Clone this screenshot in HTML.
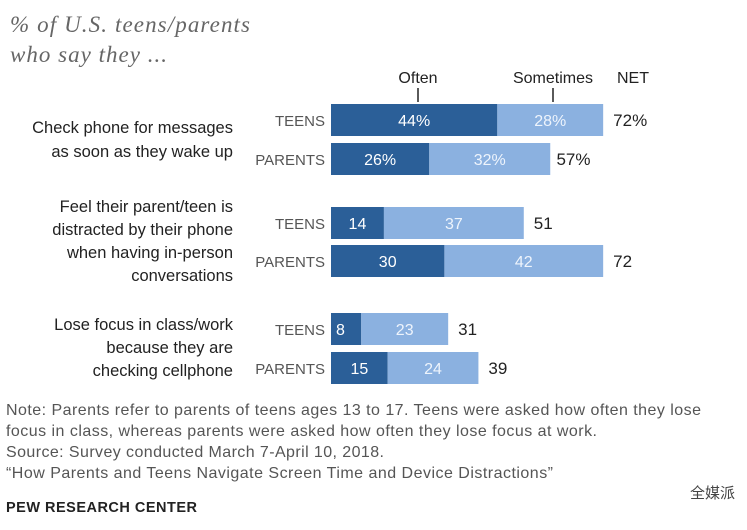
<!DOCTYPE html>
<html><head><meta charset="utf-8"><style>
body{margin:0;background:#fff;width:747px;height:525px;overflow:hidden;font-family:"Liberation Sans",sans-serif}
svg text{font-family:"Liberation Sans",sans-serif}
</style></head><body>
<svg width="747" height="525">
<text x="10" y="32" font-style="italic" font-size="23" fill="#666" textLength="240" style="font-family:'Liberation Serif',serif">% of U.S. teens/parents</text>
<text x="10" y="62" font-style="italic" font-size="23" fill="#666" textLength="157" style="font-family:'Liberation Serif',serif">who say they ...</text>
<text x="418" y="83" font-size="16" text-anchor="middle" fill="#222">Often</text>
<line x1="418" y1="88" x2="418" y2="102" stroke="#222" stroke-width="1.5"/>
<text x="553" y="83" font-size="16" text-anchor="middle" fill="#222">Sometimes</text>
<line x1="553" y1="88" x2="553" y2="102" stroke="#222" stroke-width="1.5"/>
<text x="633" y="83" font-size="16" text-anchor="middle" fill="#222">NET</text>
<g id="q" fill="#222" font-size="16.5" text-anchor="end">
<text x="233" y="133">Check phone for messages</text>
<text x="233" y="157">as soon as they wake up</text>
<text x="233" y="212">Feel their parent/teen is</text>
<text x="233" y="235">distracted by their phone</text>
<text x="233" y="258">when having in-person</text>
<text x="233" y="281">conversations</text>
<text x="233" y="330">Lose focus in class/work</text>
<text x="233" y="353">because they are</text>
<text x="233" y="376">checking cellphone</text>
</g>
<g id="bars"></g>
<g fill="#555" font-size="16">
<text x="6" y="415" textLength="695">Note: Parents refer to parents of teens ages 13 to 17. Teens were asked how often they lose</text>
<text x="6" y="436" textLength="591">focus in class, whereas parents were asked how often they lose focus at work.</text>
<text x="6" y="457" textLength="378">Source: Survey conducted March 7-April 10, 2018.</text>
<text x="6" y="478" textLength="547">“How Parents and Teens Navigate Screen Time and Device Distractions”</text>
</g>
<text x="6" y="512" font-size="14.5" font-weight="bold" fill="#222" textLength="191">PEW RESEARCH CENTER</text>
<text x="735" y="498" font-size="15" text-anchor="end" fill="#444" style="font-family:'Liberation Sans','Noto Sans CJK SC',sans-serif">全媒派</text>
</svg>
<script>
const groups=["TEENS","PARENTS","TEENS","PARENTS","TEENS","PARENTS"];
const often=[44,26,14,30,8,15];
const sometimes=[28,32,37,42,23,24];
const net=[72,57,51,72,31,39];
const showPct=[true,true,false,false,false,false];
const rowTop=[104,143,207,245,313,352];
const x0=331,sc=3.78,bh=32;
const xs=v=>x0+v*sc;
const g=document.getElementById('bars');
const NS="http://www.w3.org/2000/svg";
function mk(t,a){const e=document.createElementNS(NS,t);for(const k in a)e.setAttribute(k,a[k]);g.appendChild(e);return e;}
groups.forEach((lab,i)=>{
 const y=rowTop[i],p=showPct[i]?"%":"",cy=y+bh/2+6;
 let e=mk('text',{x:x0-6,y:cy,'text-anchor':'end','font-size':15,fill:'#555'});e.textContent=lab;
 
 
 e=mk('rect',{x:x0,y:y,width:often[i]*sc,height:bh,fill:'#2b5f98'});
 
 
 e=mk('rect',{x:xs(often[i]),y:y,width:sometimes[i]*sc,height:bh,fill:'#8bb1e0'});
 
 
 const small=often[i]<12;
 e=mk('text',{x:small?x0+5:x0+often[i]*sc/2,y:cy,'text-anchor':small?'start':'middle','font-size':16,fill:'#fff'});e.textContent=often[i]+p;
 
 
 e=mk('text',{x:xs(often[i]+sometimes[i]/2),y:cy,'text-anchor':'middle','font-size':16,fill:'#eef4fc'});e.textContent=sometimes[i]+p;
 
 
 e=mk('text',{x:xs(net[i])+10,y:cy,'font-size':17,fill:'#222'});e.textContent=net[i]+p;
 
 
});
</script>
</body></html>
